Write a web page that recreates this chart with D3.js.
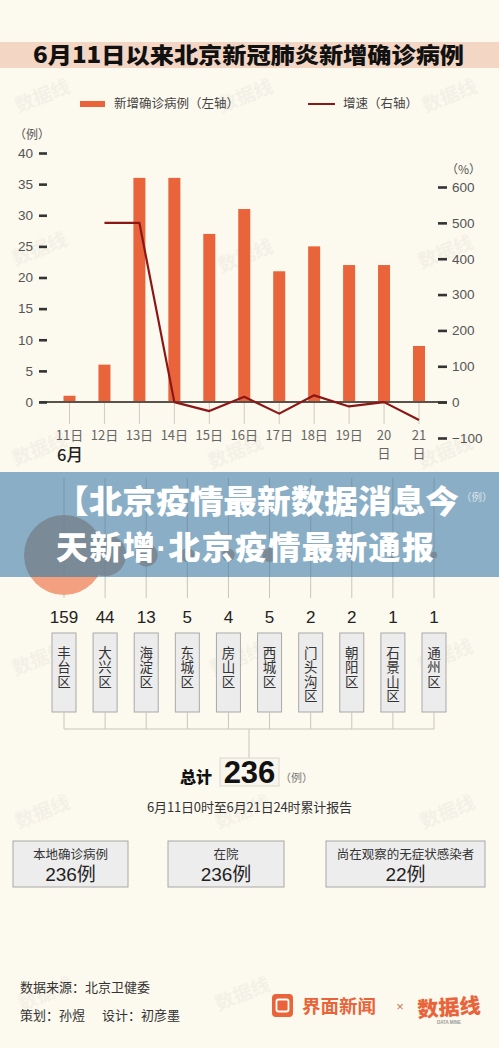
<!DOCTYPE html>
<html>
<head>
<meta charset="utf-8">
<script src="https://cdn.jsdelivr.net/npm/d3@7"></script>
<style>
  html, body { margin: 0; padding: 0; background: #fcf9ee; }
  svg { display: block; }
  text { font-family: "Liberation Sans", "Noto Sans CJK SC", sans-serif; }
  .cjk { font-family: "Noto Sans CJK SC", sans-serif; }
</style>
</head>
<body>
<svg id="chart" width="499" height="1048"></svg>
<script>
// ---------- data ----------
const title = "6月11日以来北京新冠肺炎新增确诊病例";
const days = ["11日","12日","13日","14日","15日","16日","17日","18日","19日","20日","21日"];
const newCases = [1, 6, 36, 36, 27, 31, 21, 25, 22, 22, 9];
const growthRate = [null, 500, 500, 0, -25, 15, -32, 19, -12, 0, -50];
const leftTicks = [0, 5, 10, 15, 20, 25, 30, 35, 40];
const rightTicks = [-100, 0, 100, 200, 300, 400, 500, 600];
const legendLabels = ["新增确诊病例（左轴）", "增速（右轴）"];
const districts = ["丰台区","大兴区","海淀区","东城区","房山区","西城区","门头沟区","朝阳区","石景山区","通州区"];
const districtCases = [159, 44, 13, 5, 4, 5, 2, 2, 1, 1];
const totalCases = 236;
const bannerLine1 = "【北京疫情最新数据消息今";
const bannerLine2 = ["天新增", "·", "北京疫情最新通报"];
const summaryLabels = ["本地确诊病例", "在院", "尚在观察的无症状感染者"];
const summaryValues = ["236例", "236例", "22例"];

// ---------- setup ----------
const svg = d3.select("#chart");
const W = 499;
const ORANGE = "#e9643a", DARKRED = "#8c1616";

svg.append("rect").attr("width", W).attr("height", 1048).attr("fill", "#fcf9ee");

// watermarks
const wm = [[45,102],[248,102],[452,102],[42,255],[248,262],[448,258],[42,455],[238,458],[448,458],
            [42,665],[240,665],[448,662],[45,818],[245,818],[450,818],[48,1000],[245,1000]];
svg.append("g").selectAll("text").data(wm).join("text")
  .attr("class","cjk")
  .attr("transform", d => `translate(${d[0]},${d[1]}) rotate(-22)`)
  .attr("text-anchor","middle").attr("font-size",19).attr("font-weight",700)
  .attr("fill","#999").attr("opacity",0.08).text("数据线");

// title band
svg.append("rect").attr("x",0).attr("y",42).attr("width",W).attr("height",26).attr("fill","#f3d6c4");
svg.append("text").attr("class","cjk").attr("x",33).attr("y",63)
  .attr("font-size",22).attr("font-weight",900).attr("fill","#111")
  .attr("textLength",431).attr("lengthAdjust","spacingAndGlyphs").text(title);

// legend
svg.append("rect").attr("x",80).attr("y",101).attr("width",25).attr("height",6).attr("fill",ORANGE);
svg.append("text").attr("class","cjk").attr("x",114).attr("y",108).attr("font-size",12.5).attr("fill","#444").text(legendLabels[0]);
svg.append("line").attr("x1",308).attr("x2",335).attr("y1",104).attr("y2",104).attr("stroke",DARKRED).attr("stroke-width",2);
svg.append("text").attr("class","cjk").attr("x",343).attr("y",108).attr("font-size",12.5).attr("fill","#444").text(legendLabels[1]);

// scales
const x = d3.scalePoint().domain(days).range([69.5, 419]);
const yL = d3.scaleLinear().domain([0, 40]).range([402, 153]);
const yR = d3.scaleLinear().domain([-100, 600]).range([438, 187]);

// unit labels
svg.append("text").attr("class","cjk").attr("x",14).attr("y",139).attr("font-size",12).attr("fill","#555").text("（例）");
svg.append("text").attr("class","cjk").attr("x",446).attr("y",174).attr("font-size",12).attr("fill","#555").text("（%）");

// category tick lines
svg.append("g").selectAll("line").data(days).join("line")
  .attr("x1", d => x(d)).attr("x2", d => x(d)).attr("y1", 402).attr("y2", 424)
  .attr("stroke","#cfcbc2").attr("stroke-width",1);

// bars
const bw = 12;
svg.append("g").selectAll("rect").data(newCases).join("rect")
  .attr("x", (d,i) => x(days[i]) - bw/2).attr("width", bw)
  .attr("y", d => yL(d)).attr("height", d => yL(0) - yL(d))
  .attr("fill", ORANGE);

// baseline
svg.append("line").attr("x1",39).attr("x2",447).attr("y1",yL(0)).attr("y2",yL(0))
  .attr("stroke","#5a524a").attr("stroke-width",1.8);

// axes
const axL = svg.append("g").attr("transform","translate(47,0)")
  .call(d3.axisLeft(yL).tickValues(leftTicks).tickSize(8).tickPadding(6));
const axR = svg.append("g").attr("transform","translate(438,0)")
  .call(d3.axisRight(yR).tickValues(rightTicks).tickSize(9).tickPadding(5)
    .tickFormat(d => d < 0 ? "\u2212" + Math.abs(d) : d));
[axL, axR].forEach(a => {
  a.select(".domain").remove();
  a.selectAll(".tick line").attr("stroke","#333").attr("stroke-width",2.6);
  a.selectAll(".tick text").attr("font-size",13.5).attr("fill","#555")
    .attr("font-family","Liberation Sans, sans-serif");
});

// growth line
const lineGen = d3.line().defined(d => d != null)
  .x((d,i) => x(days[i])).y(d => yR(d));
svg.append("path").datum(growthRate).attr("d", lineGen)
  .attr("fill","none").attr("stroke",DARKRED).attr("stroke-width",2.2).attr("stroke-linejoin","round");

// x labels
const xl = svg.append("g").selectAll("text").data(days).join("text")
  .attr("class","cjk").attr("text-anchor","middle").attr("font-size",13).attr("fill","#666")
  .attr("x", d => x(d)).attr("y", 440);
xl.each(function(d,i){
  const t = d3.select(this);
  if (i >= days.length - 2) {
    t.append("tspan").attr("x", x(d)).attr("y",440).text(d.replace("日",""));
    t.append("tspan").attr("x", x(d)).attr("y",458).text("日");
  } else t.text(d);
});
svg.append("text").attr("class","cjk").attr("x",57).attr("y",461).attr("font-size",16.5).attr("font-weight",500).attr("fill","#222").text("6月");

// ---------- district section ----------
const xd = d3.scalePoint().domain(districts).range([64, 434]);
const rScale = d3.scaleSqrt().domain([0, 159]).range([0, 40]);
const bubbleY = 555;

// vertical guide lines
svg.append("g").selectAll("line").data(districts).join("line")
  .attr("x1", d => xd(d)).attr("x2", d => xd(d)).attr("y1", 478).attr("y2", 598)
  .attr("stroke","#c9c5bc").attr("stroke-width",1);

// bubbles
svg.append("g").selectAll("circle").data(districtCases).join("circle")
  .attr("cx",(d,i)=>xd(districts[i])).attr("cy",bubbleY).attr("r", d => rScale(d))
  .attr("fill","#f2a080");

// banner
const bTop = 472, bBot = 577;
svg.append("defs").append("clipPath").attr("id","bclip")
  .append("rect").attr("x",0).attr("y",bTop).attr("width",W).attr("height",bBot-bTop);
svg.append("rect").attr("x",0).attr("y",bTop).attr("width",W).attr("height",bBot-bTop)
  .attr("fill","#84abc3").attr("opacity",0.96);
svg.append("g").attr("clip-path","url(#bclip)").selectAll("circle").data(districtCases).join("circle")
  .attr("cx",(d,i)=>xd(districts[i])).attr("cy",bubbleY).attr("r", d => rScale(d))
  .attr("fill","#7b8a97");
svg.append("g").attr("clip-path","url(#bclip)").selectAll("line").data(districts).join("line")
  .attr("x1", d => xd(d)).attr("x2", d => xd(d)).attr("y1", 478).attr("y2", 598)
  .attr("stroke","#6f8594").attr("stroke-width",1).attr("opacity",0.5);
svg.append("text").attr("class","cjk").attr("x",461).attr("y",501).attr("font-size",10.5).attr("fill","#dde5ea").text("（例）");
svg.append("text").attr("class","cjk").attr("x",55).attr("y",513).attr("font-size",32).attr("font-weight",900)
  .attr("fill","#fff").attr("textLength",404).attr("lengthAdjust","spacingAndGlyphs").text(bannerLine1);
const b2 = svg.append("text").attr("class","cjk").attr("x",56).attr("y",559).attr("font-size",32).attr("font-weight",900)
  .attr("fill","#fff").attr("textLength",378).attr("lengthAdjust","spacing");
b2.append("tspan").text(bannerLine2[0]);
b2.append("tspan").attr("font-family","Liberation Sans, sans-serif").attr("font-weight",700).text(bannerLine2[1]);
b2.append("tspan").text(bannerLine2[2]);

// district numbers
svg.append("g").selectAll("text").data(districtCases).join("text")
  .attr("x",(d,i)=>xd(districts[i])).attr("y",623).attr("text-anchor","middle")
  .attr("font-size",17).attr("fill","#222").text(d => d);

// district boxes
const dg = svg.append("g").selectAll("g").data(districts).join("g")
  .attr("transform", d => `translate(${xd(d)},0)`);
dg.append("rect").attr("x",-12).attr("y",633).attr("width",24).attr("height",79)
  .attr("fill","#ececec").attr("stroke","#a9a9a9").attr("stroke-width",1);
dg.append("text").attr("class","cjk")
  .attr("x",0).attr("y",646)
  .attr("writing-mode","vertical-rl").attr("style","writing-mode: vertical-rl")
  .attr("letter-spacing",1)
  .attr("font-size",13.5).attr("fill","#333").text(d => d);

// connectors below boxes
svg.append("g").selectAll("line").data(districts).join("line")
  .attr("x1", d => xd(d)).attr("x2", d => xd(d)).attr("y1", 712).attr("y2", 729)
  .attr("stroke","#c9c5bc");
svg.append("line").attr("x1",xd(districts[0])).attr("x2",xd(districts[districts.length-1]))
  .attr("y1",729).attr("y2",729).attr("stroke","#c9c5bc");
svg.append("line").attr("x1",249).attr("x2",249).attr("y1",729).attr("y2",758).attr("stroke","#c9c5bc");

// total
svg.append("text").attr("class","cjk").attr("x",180).attr("y",783).attr("font-size",16).attr("font-weight",900).attr("fill","#111").text("总计");
svg.append("rect").attr("x",220).attr("y",758).attr("width",59).attr("height",28)
  .attr("fill","#f7f5ec").attr("stroke","#dcd8cf");
svg.append("text").attr("x",249.5).attr("y",783).attr("text-anchor","middle").attr("font-size",31)
  .attr("font-weight",700).attr("fill","#111").text(totalCases);
svg.append("text").attr("class","cjk").attr("x",280).attr("y",782).attr("font-size",11).attr("fill","#777").text("（例）");
svg.append("text").attr("class","cjk").attr("x",249.5).attr("y",812).attr("text-anchor","middle")
  .attr("font-size",13).attr("fill","#333").attr("textLength",205).text("6月11日0时至6月21日24时累计报告");

// summary boxes
const sBoxes = [[13,115],[168,116],[326,159]];
const sg = svg.append("g").selectAll("g").data(summaryLabels).join("g");
sg.append("rect").attr("x",(d,i)=>sBoxes[i][0]).attr("y",841).attr("width",(d,i)=>sBoxes[i][1]).attr("height",46)
  .attr("fill","#ededed").attr("stroke","#a8a8a8");
sg.append("text").attr("class","cjk").attr("text-anchor","middle").attr("fill","#333")
  .attr("x",(d,i)=>sBoxes[i][0] + sBoxes[i][1]/2).attr("y",859).attr("font-size",12.5).text(d => d);
sg.append("text").attr("text-anchor","middle").attr("fill","#222")
  .attr("x",(d,i)=>sBoxes[i][0] + sBoxes[i][1]/2).attr("y",881).attr("font-size",19).text((d,i) => summaryValues[i]);

// footer
svg.append("text").attr("class","cjk").attr("x",20).attr("y",992).attr("font-size",13).attr("fill","#333").text("数据来源：北京卫健委");
svg.append("text").attr("class","cjk").attr("x",20).attr("y",1020).attr("font-size",13).attr("fill","#333").text("策划：孙煜");
svg.append("text").attr("class","cjk").attr("x",102).attr("y",1020).attr("font-size",13).attr("fill","#333").text("设计：初彦墨");
svg.append("rect").attr("x",272).attr("y",994).attr("width",21).attr("height",23).attr("rx",4).attr("fill",ORANGE);
svg.append("rect").attr("x",276.5).attr("y",999.5).attr("width",12).attr("height",12).attr("rx",2)
  .attr("fill","none").attr("stroke","#fff").attr("stroke-width",1.8);
svg.append("text").attr("class","cjk").attr("x",302).attr("y",1013).attr("font-size",18.5).attr("font-weight",700)
  .attr("fill",ORANGE).text("界面新闻");
svg.append("text").attr("x",400).attr("y",1011).attr("text-anchor","middle").attr("font-size",13).attr("fill","#c77a5c").text("×");
svg.append("text").attr("class","cjk").attr("x",449).attr("y",1015).attr("text-anchor","middle").attr("font-size",21)
  .attr("font-weight",900).attr("fill",ORANGE).attr("transform","rotate(-4,449,1008)").text("数据线");
svg.append("text").attr("x",449).attr("y",1024).attr("text-anchor","middle").attr("font-size",4.5)
  .attr("font-weight",700).attr("fill","#999").text("DATA MINE");
</script>
</body>
</html>
